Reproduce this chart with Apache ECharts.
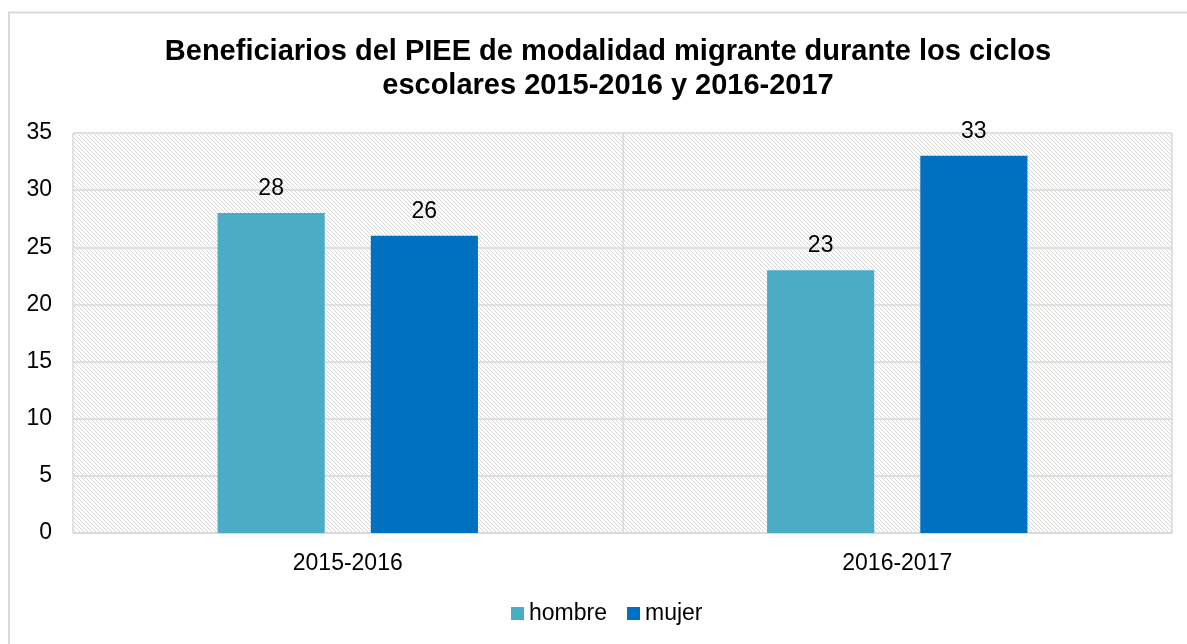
<!DOCTYPE html>
<html>
<head>
<meta charset="utf-8">
<script src="https://cdn.jsdelivr.net/npm/echarts@6/dist/echarts.min.js"></script>
<style>
html,body{margin:0;padding:0;background:#fff;}
#chart{width:1187px;height:644px;}
</style>
</head>
<body>
<div id="chart"></div>
<script>
var titleText = 'Beneficiarios del PIEE de modalidad migrante durante los ciclos\nescolares 2015-2016 y 2016-2017';
var categories = ['2015-2016', '2016-2017'];
var seriesNames = ['hombre', 'mujer'];
var hombre = [28, 23];
var mujer = [26, 33];
var yTicks = [0, 5, 10, 15, 20, 25, 30, 35];

var FONT = '"Liberation Sans", Arial, sans-serif';

// hatch pattern (downward diagonal)
var pc = document.createElement('canvas');
pc.width = 4; pc.height = 4;
var px = pc.getContext('2d');
px.fillStyle = '#ffffff';
px.fillRect(0, 0, 4, 4);
px.fillStyle = '#d6d6d6';
for (var i = 0; i < 4; i++) { px.fillRect(i, i, 1, 1); }

var chart = echarts.init(document.getElementById('chart'), null, {renderer: 'canvas'});
chart.setOption({
  backgroundColor: '#ffffff',
  animation: false,
  graphic: [{
    type: 'rect',
    shape: {x: 9, y: 12.5, width: 1400, height: 800},
    style: {fill: 'none', stroke: '#d9d9d9', lineWidth: 2},
    silent: true, z: -10
  }],
  title: {
    text: titleText,
    left: 608,
    textAlign: 'center',
    top: 35,
    padding: 0,
    textStyle: {fontFamily: FONT, fontSize: 29, fontWeight: 'bold', color: '#000', lineHeight: 34}
  },
  legend: {
    data: seriesNames,
    left: 511,
    top: 602,
    padding: 0,
    icon: 'rect',
    itemWidth: 13,
    itemHeight: 13,
    itemGap: 20,
    textStyle: {fontFamily: FONT, fontSize: 23, color: '#000'}
  },
  grid: {
    left: 73, right: 15, top: 133, bottom: 111,
    show: true,
    borderWidth: 0,
    backgroundColor: {image: pc, repeat: 'repeat'}
  },
  xAxis: {
    type: 'category',
    data: categories,
    axisLine: {show: true, lineStyle: {color: '#d9d9d9', width: 1.5}},
    axisTick: {show: false},
    splitLine: {show: true, lineStyle: {color: '#d9d9d9', width: 1.5}},
    axisLabel: {fontFamily: FONT, fontSize: 23, color: '#000', margin: 19}
  },
  yAxis: {
    type: 'value',
    min: yTicks[0],
    max: yTicks[yTicks.length - 1],
    interval: yTicks[1] - yTicks[0],
    axisLine: {show: false},
    axisTick: {show: false},
    splitLine: {show: true, lineStyle: {color: '#d9d9d9', width: 1.5}},
    axisLabel: {fontFamily: FONT, fontSize: 23, color: '#000', margin: 21}
  },
  series: [
    {
      name: seriesNames[0], type: 'bar', data: hombre,
      barWidth: '19.5%', barGap: '43%',
      itemStyle: {color: '#4BACC6'},
      label: {show: true, position: 'top', distance: 13, fontFamily: FONT, fontSize: 23, color: '#000'}
    },
    {
      name: seriesNames[1], type: 'bar', data: mujer,
      barWidth: '19.5%', barGap: '43%',
      itemStyle: {color: '#0070C0'},
      label: {show: true, position: 'top', distance: 13, fontFamily: FONT, fontSize: 23, color: '#000'}
    }
  ]
});
</script>
</body>
</html>
